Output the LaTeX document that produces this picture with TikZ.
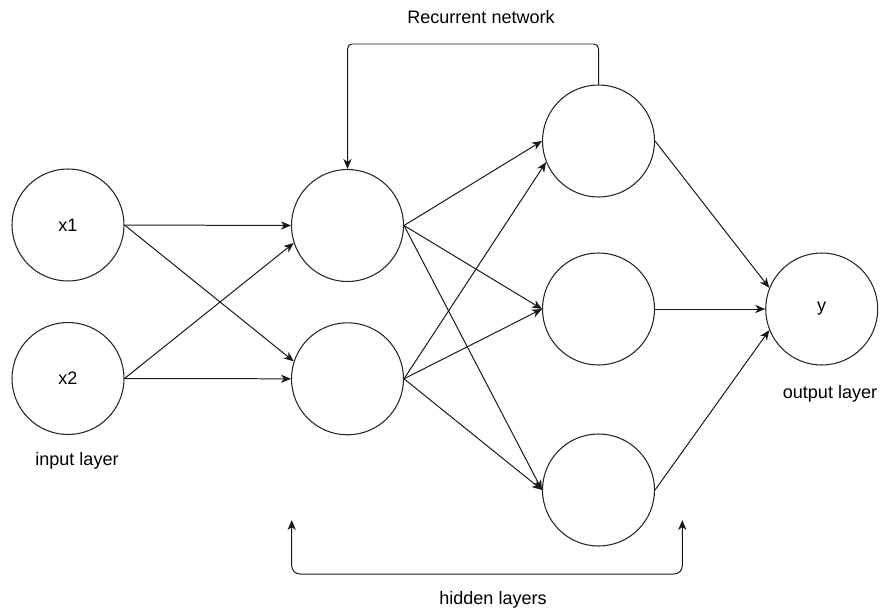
\documentclass[tikz,border=0pt]{standalone}
\usepackage{fontspec}
\setmainfont{Liberation Sans}
\usetikzlibrary{arrows.meta}
\begin{document}
\begin{tikzpicture}[x=0.03cm,y=-0.03cm,
  neuron/.style={circle,draw=black!85,line width=0.9pt,minimum size=3.36cm,inner sep=0pt,
    font=\fontsize{15.4}{18}\selectfont},
  lbl/.style={inner sep=0pt,font=\fontsize{15.4}{18}\selectfont},
  conn/.style={draw=black!90,line width=0.85pt,-{Stealth[length=8.5pt,width=7pt,inset=2.5pt]}},
  bothconn/.style={draw=black!90,line width=0.85pt,{Stealth[length=8.5pt,width=7pt,inset=2.5pt]}-{Stealth[length=8.5pt,width=7pt,inset=2.5pt]}}]
\useasboundingbox[fill=white] (0,0) rectangle (880,612);
% nodes
\node[neuron] (x1) at (68,225) {x1};
\node[neuron] (x2) at (68,378.5) {x2};
\node[neuron] (h1a) at (347.5,225.5) {};
\node[neuron] (h1b) at (347.5,378.8) {};
\node[neuron] (h2a) at (598.5,141) {};
\node[neuron] (h2b) at (598.5,309) {};
\node[neuron] (h2c) at (598.5,490) {};
\node[neuron] (y) at (821.7,309) {y};
% labels
\node[lbl] (lrec) at (481,17) {Recurrent network};
\node[lbl] (lin) at (77,461) {input layer};
\node[lbl] (lout) at (830,394) {output layer};
\node[lbl] (lhid) at (493,600) {hidden layers};
% input -> hidden 1
\draw[conn] (x1.east) -- (h1a.west);
\draw[conn] (x1.east) -- (h1b.162);
\draw[conn] (x2.east) -- (h1a.198);
\draw[conn] (x2.east) -- (h1b.west);
% hidden 1 -> hidden 2
\draw[conn] (h1a.east) -- (h2a.west);
\draw[conn] (h1a.east) -- (h2b.west);
\draw[conn] (h1a.east) -- (h2c.west);
\draw[conn] (h1b.east) -- (h2a.202);
\draw[conn] (h1b.east) -- (h2b.west);
\draw[conn] (h1b.east) -- (h2c.west);
% hidden 2 -> output
\draw[conn] (h2a.east) -- (y.158);
\draw[conn] (h2b.east) -- (y.west);
\draw[conn] (h2c.east) -- (y.202);
% recurrent connection
\coordinate (rtop) at (480,44);
\draw[conn,rounded corners=4pt] (h2a.north) |- (rtop) -| (h1a.north);
% hidden layers bracket
\coordinate (bl) at (291.7,520);
\coordinate (br) at (682.3,520);
\draw[bothconn,rounded corners=7pt] (bl) -- (291.7,574) -- (682.3,574) -- (br);
\end{tikzpicture}
\end{document}
